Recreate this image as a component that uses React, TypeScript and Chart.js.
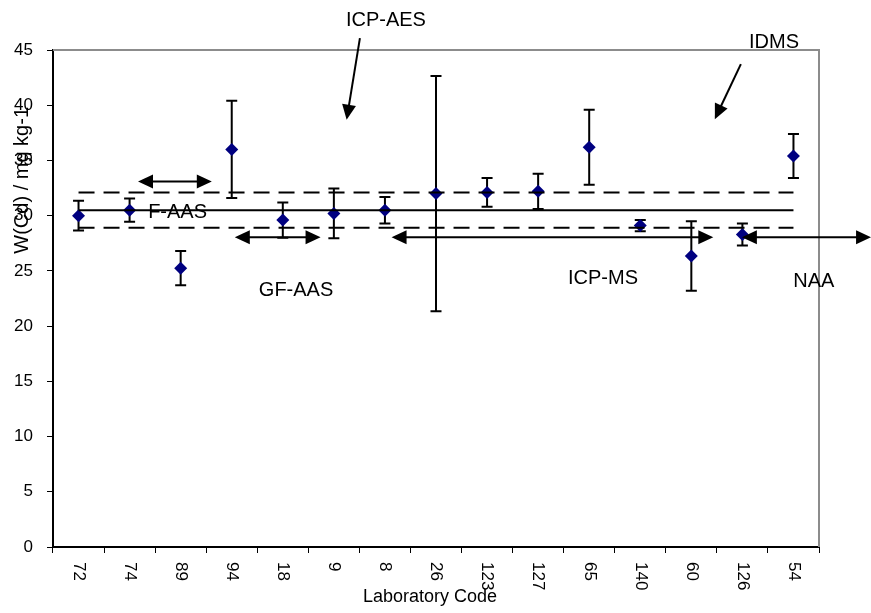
import React, { useEffect, useRef } from 'react';
import { Chart, registerables } from 'chart.js';

Chart.register(...registerables);

// ---- data ----
const labCodes = ['72', '74', '89', '94', '18', '9', '8', '26', '123', '127', '65', '140', '60', '126', '54'];
const cdValues = [30.0, 30.5, 25.25, 36.0, 29.6, 30.2, 30.5, 32.0, 32.1, 32.2, 36.2, 29.1, 26.35, 28.3, 35.4];
const cdUncert = [1.35, 1.05, 1.55, 4.4, 1.6, 2.25, 1.2, 10.65, 1.3, 1.6, 3.4, 0.5, 3.15, 1.0, 2.0];
const refMean = 30.5;
const refUpper = 32.1;
const refLower = 28.9;
const yMin = 0;
const yMax = 45;
const yStep = 5;

// ---- annotations (data units: x = category index, y = mass fraction) ----
const methodLabels = ['F-AAS', 'GF-AAS', 'ICP-MS', 'NAA', 'ICP-AES', 'IDMS'];
const methodLabelX = [1.94, 4.26, 10.27, 14.4, 6.02, 13.62];
const methodLabelY = [30.3, 23.2, 24.3, 24.05, 47.7, 45.65];
const rangeArrowFrom = [1.165, 3.06, 6.13, 12.99];
const rangeArrowTo = [2.61, 4.74, 12.43, 15.52];
const rangeArrowY = [33.1, 28.05, 28.05, 28.05];
const pointerFromX = [5.51, 12.97];
const pointerFromY = [46.08, 43.72];
const pointerToX = [5.25, 12.46];
const pointerToY = [38.68, 38.74];

const FONT = '"Liberation Sans", Arial, Helvetica, sans-serif';

function arrowHead(ctx: CanvasRenderingContext2D, x1: number, y1: number, x2: number, y2: number) {
  const a = Math.atan2(y2 - y1, x2 - x1);
  const L = 15;
  const W = 7;
  const c = Math.cos(a);
  const s = Math.sin(a);
  ctx.beginPath();
  ctx.moveTo(x2, y2);
  ctx.lineTo(x2 - L * c + W * s, y2 - L * s - W * c);
  ctx.lineTo(x2 - L * c - W * s, y2 - L * s + W * c);
  ctx.closePath();
  ctx.fill();
}

function arrowLine(ctx: CanvasRenderingContext2D, x1: number, y1: number, x2: number, y2: number, both: boolean) {
  const a = Math.atan2(y2 - y1, x2 - x1);
  const c = Math.cos(a);
  const s = Math.sin(a);
  const sx = both ? x1 + 12 * c : x1;
  const sy = both ? y1 + 12 * s : y1;
  ctx.beginPath();
  ctx.moveTo(sx, sy);
  ctx.lineTo(x2 - 12 * c, y2 - 12 * s);
  ctx.stroke();
  arrowHead(ctx, x1, y1, x2, y2);
  if (both) arrowHead(ctx, x2, y2, x1, y1);
}

const overlay = {
  id: 'overlay',
  beforeDatasetsDraw(chart: any) {
    const { ctx, chartArea } = chart;
    const xs = chart.scales.x;
    const ys = chart.scales.y;
    ctx.save();
    // grey frame on top and right
    ctx.strokeStyle = '#8c8c8c';
    ctx.lineWidth = 2;
    ctx.beginPath();
    ctx.moveTo(chartArea.left, chartArea.top);
    ctx.lineTo(chartArea.right, chartArea.top);
    ctx.lineTo(chartArea.right, chartArea.bottom);
    ctx.stroke();
    // error bars
    ctx.strokeStyle = '#000';
    ctx.lineWidth = 2;
    for (let i = 0; i < cdValues.length; i++) {
      const x = xs.getPixelForValue(i);
      const yt = ys.getPixelForValue(cdValues[i] + cdUncert[i]);
      const yb = ys.getPixelForValue(cdValues[i] - cdUncert[i]);
      ctx.beginPath();
      ctx.moveTo(x, yt);
      ctx.lineTo(x, yb);
      ctx.moveTo(x - 5.5, yt);
      ctx.lineTo(x + 5.5, yt);
      ctx.moveTo(x - 5.5, yb);
      ctx.lineTo(x + 5.5, yb);
      ctx.stroke();
    }
    ctx.restore();
  },
  afterDraw(chart: any) {
    const { ctx, chartArea } = chart;
    const xs = chart.scales.x;
    const ys = chart.scales.y;
    ctx.save();
    ctx.strokeStyle = '#000';
    ctx.fillStyle = '#000';
    ctx.lineWidth = 2;
    // range arrows
    for (let i = 0; i < rangeArrowFrom.length; i++) {
      const y = ys.getPixelForValue(rangeArrowY[i]);
      arrowLine(ctx, xs.getPixelForValue(rangeArrowFrom[i]), y, xs.getPixelForValue(rangeArrowTo[i]), y, true);
    }
    // pointer arrows
    for (let i = 0; i < pointerFromX.length; i++) {
      arrowLine(
        ctx,
        xs.getPixelForValue(pointerFromX[i]),
        ys.getPixelForValue(pointerFromY[i]),
        xs.getPixelForValue(pointerToX[i]),
        ys.getPixelForValue(pointerToY[i]),
        false
      );
    }
    // method labels
    ctx.font = `20px ${FONT}`;
    ctx.textAlign = 'center';
    ctx.textBaseline = 'middle';
    for (let i = 0; i < methodLabels.length; i++) {
      ctx.fillText(methodLabels[i], xs.getPixelForValue(methodLabelX[i]), ys.getPixelForValue(methodLabelY[i]));
    }
    // x tick labels, rotated clockwise
    ctx.font = `17px ${FONT}`;
    ctx.textAlign = 'left';
    ctx.textBaseline = 'middle';
    for (let i = 0; i < labCodes.length; i++) {
      ctx.save();
      ctx.translate(xs.getPixelForValue(i), chartArea.bottom + 15);
      ctx.rotate(Math.PI / 2);
      ctx.fillText(labCodes[i], 0, 0);
      ctx.restore();
    }
    // axis titles
    ctx.font = `18px ${FONT}`;
    ctx.textAlign = 'center';
    ctx.textBaseline = 'middle';
    ctx.fillText('Laboratory Code', (chartArea.left + chartArea.right) / 2 - 6, chartArea.bottom + 50);
    ctx.save();
    ctx.translate(22, ys.getPixelForValue(33.2));
    ctx.rotate(-Math.PI / 2);
    ctx.font = `20px ${FONT}`;
    ctx.fillText('W(Cd) / mg kg-1', 0, 0);
    ctx.restore();
    ctx.restore();
  },
};

export default function App() {
  const ref = useRef<HTMLCanvasElement>(null);
  useEffect(() => {
    document.body.style.margin = '0';
    const canvas = ref.current!;
    const first = labCodes[0];
    const last = labCodes[labCodes.length - 1];
    const chart = new Chart(canvas, {
      type: 'line',
      data: {
        labels: labCodes,
        datasets: [
          {
            label: 'mean',
            data: [{ x: first, y: refMean }, { x: last, y: refMean }] as any,
            borderColor: '#000',
            borderWidth: 2,
            pointRadius: 0,
            fill: false,
          },
          {
            label: 'upper',
            data: [{ x: first, y: refUpper }, { x: last, y: refUpper }] as any,
            borderColor: '#000',
            borderWidth: 2,
            borderDash: [16, 9],
            pointRadius: 0,
            fill: false,
          },
          {
            label: 'lower',
            data: [{ x: first, y: refLower }, { x: last, y: refLower }] as any,
            borderColor: '#000',
            borderWidth: 2,
            borderDash: [16, 9],
            pointRadius: 0,
            fill: false,
          },
          {
            label: 'W(Cd)',
            data: cdValues,
            showLine: false,
            pointStyle: 'rectRot',
            pointRadius: 6.5,
            backgroundColor: '#000080',
            borderColor: '#000080',
            borderWidth: 0,
          },
        ],
      },
      options: {
        responsive: false,
        animation: false,
        layout: { padding: { top: 50, right: 52, left: 0, bottom: 0 } },
        plugins: { legend: { display: false }, tooltip: { enabled: false } },
        scales: {
          x: {
            type: 'category',
            offset: true,
            grid: { display: true, offset: true, drawOnChartArea: false, drawTicks: true, tickLength: 6, color: '#000', lineWidth: 1 },
            border: { color: '#000', width: 2 },
            ticks: { display: false },
            afterFit: (s: any) => { s.height = 66; },
          },
          y: {
            min: yMin,
            max: yMax,
            grid: { display: true, drawOnChartArea: false, drawTicks: true, tickLength: 6, color: '#000', lineWidth: 1 },
            border: { color: '#000', width: 2 },
            ticks: { stepSize: yStep, color: '#000', padding: 14, font: { size: 17, family: FONT } },
            afterFit: (s: any) => { s.width = 53; },
          },
        },
      },
      plugins: [overlay],
    } as any);
    return () => chart.destroy();
  }, []);
  return (
    <div style={{ width: 871, height: 613, background: '#fff' }}>
      <canvas ref={ref} width={871} height={613} style={{ display: 'block' }} />
    </div>
  );
}
